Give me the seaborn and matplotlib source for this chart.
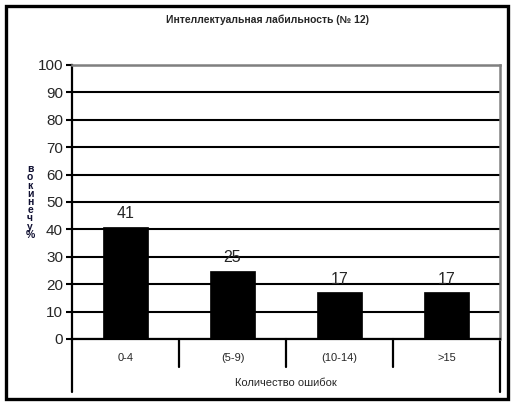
import pandas as pd
import matplotlib
matplotlib.use("Agg")
import matplotlib.pyplot as plt
import seaborn as sns
from matplotlib.patches import Rectangle

categories = ["0-4", "(5-9)", "(10-14)", ">15"]
values = [41, 25, 17, 17]
y_ticks = [0, 10, 20, 30, 40, 50, 60, 70, 80, 90, 100]
title = "Интеллектуальная лабильность (№ 12)"
x_label = "Количество ошибок"
y_label = "% учеников"

sns.set_style("white")
plt.rcParams["font.family"] = ["Liberation Sans", "DejaVu Sans"]

data = pd.DataFrame({"group": categories, "pct": values})

W, H = 513, 404
fig = plt.figure(figsize=(W / 100, H / 100), dpi=100)
ax = fig.add_axes([72 / W, 1 - 339 / H, 428 / W, 274 / H])

sns.barplot(x="group", y="pct", data=data, color="black", width=0.42,
            saturation=1, edgecolor="black", linewidth=0.5, ax=ax)
ax.bar_label(ax.containers[0], labels=[str(v) for v in values],
             fontsize=11.5, padding=4)

ax.set_xlim(-0.5, 3.5)
ax.set_ylim(0, 100)
ax.set_yticks(y_ticks)
ax.tick_params(axis="y", length=4.5, width=1.5, direction="out", color="black",
               labelsize=11, pad=2, left=True)
ax.tick_params(axis="x", length=0, labelsize=8, pad=10)
ax.set_xlabel(x_label, fontsize=8, labelpad=11)
ax.set_ylabel("")

# gridlines
ax.set_axisbelow(True)
ax.yaxis.grid(True, color="black", linewidth=1.5)
for s in ["left", "bottom"]:
    ax.spines[s].set_color("black")
    ax.spines[s].set_linewidth(1.6)
for s in ["top", "right"]:
    ax.spines[s].set_color("#808080")
    ax.spines[s].set_linewidth(1.8)

# table-like category separators below the axis
trans = ax.get_xaxis_transform()
for x in [0.5, 1.5, 2.5]:
    ax.plot([x, x], [0, -0.102], transform=trans, color="black",
            linewidth=1.6, clip_on=False)
for x in [-0.5, 3.5]:
    ax.plot([x, x], [0, -0.193], transform=trans, color="black",
            linewidth=1.6, clip_on=False)

# stacked y label
fig.text(30 / W, 1 - 202 / H, "\n".join(reversed(list(y_label.replace(" ", "")))),
         fontsize=7.5, fontweight="bold", ha="center", va="center",
         linespacing=0.78, color="#111133")

fig.text(268 / W, 1 - 20 / H, title, fontsize=7.5, fontweight="bold",
         ha="center", va="center")

# outer frame
fig.patches.append(Rectangle((6 / W, 5 / H), 502 / W, 393 / H,
                             transform=fig.transFigure, fill=False,
                             edgecolor="black", linewidth=2.4))

fig.savefig("out.png", dpi=100)
